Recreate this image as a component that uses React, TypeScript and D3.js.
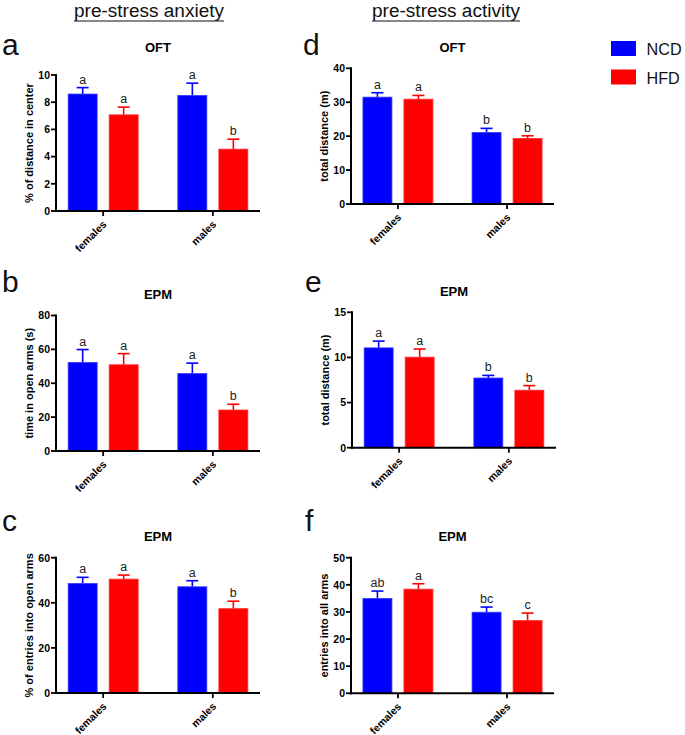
import React from "react";
import * as d3 from "d3";

// ---------- data ----------
const categories = ["females", "males"];
const seriesNames = ["NCD", "HFD"];
const seriesColors = ["#0000ff", "#ff0000"];

// a: OFT % distance in center
const aNCD = [8.6, 8.5];
const aNCDsem = [0.47, 0.9];
const aHFD = [7.07, 4.55];
const aHFDsem = [0.57, 0.73];
const aNCDletters = ["a", "a"];
const aHFDletters = ["a", "b"];
const aTicks = [0, 2, 4, 6, 8, 10];

// b: EPM time in open arms
const bNCD = [52.3, 45.7];
const bNCDsem = [7.6, 6.2];
const bHFD = [50.9, 24.2];
const bHFDsem = [6.6, 3.4];
const bNCDletters = ["a", "a"];
const bHFDletters = ["a", "b"];
const bTicks = [0, 20, 40, 60, 80];

// c: EPM % entries into open arms
const cNCD = [48.6, 47.1];
const cNCDsem = [2.7, 2.7];
const cHFD = [50.5, 37.4];
const cHFDsem = [1.8, 3.3];
const cNCDletters = ["a", "a"];
const cHFDletters = ["a", "b"];
const cTicks = [0, 20, 40, 60];

// d: OFT total distance
const dNCD = [31.5, 21.1];
const dNCDsem = [1.3, 1.2];
const dHFD = [30.9, 19.3];
const dHFDsem = [1.1, 0.8];
const dNCDletters = ["a", "b"];
const dHFDletters = ["a", "b"];
const dTicks = [0, 10, 20, 30, 40];

// e: EPM total distance
const eNCD = [11.06, 7.72];
const eNCDsem = [0.75, 0.29];
const eHFD = [10.03, 6.37];
const eHFDsem = [0.9, 0.51];
const eNCDletters = ["a", "b"];
const eHFDletters = ["a", "b"];
const eTicks = [0, 5, 10, 15];

// f: EPM entries into all arms
const fNCD = [35.0, 29.9];
const fNCDsem = [2.7, 1.9];
const fHFD = [38.4, 26.8];
const fHFDsem = [2.0, 2.8];
const fNCDletters = ["ab", "bc"];
const fHFDletters = ["a", "c"];
const fTicks = [0, 10, 20, 30, 40, 50];

const panelLetters = ["a", "b", "c", "d", "e", "f"];
const panelTitles = ["OFT", "EPM", "EPM", "OFT", "EPM", "EPM"];
const yLabels = [
  "% of distance in center",
  "time in open arms (s)",
  "% of entries into open arms",
  "total distance (m)",
  "total distance (m)",
  "entries into all arms",
];
const columnHeaders = ["pre-stress anxiety", "pre-stress activity"];

const panelData = [
  { means: [aNCD, aHFD], sems: [aNCDsem, aHFDsem], letters: [aNCDletters, aHFDletters], ticks: aTicks },
  { means: [bNCD, bHFD], sems: [bNCDsem, bHFDsem], letters: [bNCDletters, bHFDletters], ticks: bTicks },
  { means: [cNCD, cHFD], sems: [cNCDsem, cHFDsem], letters: [cNCDletters, cHFDletters], ticks: cTicks },
  { means: [dNCD, dHFD], sems: [dNCDsem, dHFDsem], letters: [dNCDletters, dHFDletters], ticks: dTicks },
  { means: [eNCD, eHFD], sems: [eNCDsem, eHFDsem], letters: [eNCDletters, eHFDletters], ticks: eTicks },
  { means: [fNCD, fHFD], sems: [fNCDsem, fHFDsem], letters: [fNCDletters, fHFDletters], ticks: fTicks },
];

// ---------- layout ----------
const layout = [
  { x0: 56, x1: 260, yTop: 75, yBot: 211, titleY: 52, letterX: 2, letterY: 55 },
  { x0: 56, x1: 260, yTop: 315.5, yBot: 451, titleY: 299, letterX: 2, letterY: 292 },
  { x0: 56, x1: 260, yTop: 557.7, yBot: 693, titleY: 541, letterX: 2, letterY: 531 },
  { x0: 351, x1: 554, yTop: 68.3, yBot: 204, titleY: 52, letterX: 303, letterY: 55 },
  { x0: 352, x1: 556, yTop: 312.3, yBot: 447.7, titleY: 296, letterX: 305, letterY: 292 },
  { x0: 351, x1: 554, yTop: 557.7, yBot: 693.3, titleY: 541, letterX: 305, letterY: 531 },
];

const FONT = "Arial, 'Liberation Sans', Helvetica, sans-serif";

function Panel({ idx }: { idx: number }) {
  const L = layout[idx];
  const D = panelData[idx];
  const maxTick = D.ticks[D.ticks.length - 1];
  const y = d3.scaleLinear().domain([0, maxTick]).range([L.yBot, L.yTop]);
  const xc = d3.scalePoint<string>().domain(categories).range([L.x0, L.x1]).padding(0.43);
  const groupW = 70;
  const xs = d3.scaleBand<string>().domain(seriesNames).range([-groupW / 2, groupW / 2]).paddingInner(0.293);
  const bw = xs.bandwidth();
  const capW = 12;

  return (
    <g>
      <text x={L.letterX} y={L.letterY} fontSize={30} fontFamily={FONT} fill="#111">
        {panelLetters[idx]}
      </text>
      <text x={(L.x0 + L.x1) / 2} y={L.titleY} fontSize={13} fontWeight="bold" textAnchor="middle" fontFamily={FONT}>
        {panelTitles[idx]}
      </text>
      <text
        transform={`translate(${L.x0 - 23},${(L.yTop + L.yBot) / 2}) rotate(-90)`}
        fontSize={11}
        fontWeight="bold"
        textAnchor="middle"
        fontFamily={FONT}
      >
        {yLabels[idx]}
      </text>
      {/* bars */}
      {seriesNames.map((s, si) =>
        categories.map((c, ci) => {
          const v = D.means[si][ci];
          const e = D.sems[si][ci];
          const bx = (xc(c) as number) + (xs(s) as number);
          const cx = bx + bw / 2;
          const col = seriesColors[si];
          return (
            <g key={s + c}>
              <line x1={cx} x2={cx} y1={y(v)} y2={y(v + e)} stroke={col} strokeWidth={1.6} />
              <line x1={cx - capW / 2} x2={cx + capW / 2} y1={y(v + e)} y2={y(v + e)} stroke={col} strokeWidth={1.6} />
              <rect x={bx} y={y(v)} width={bw} height={L.yBot - y(v)} fill={col} stroke={si === 0 ? "#3a3aff" : "#ff3030"} strokeWidth={0.8} />
              <text x={cx} y={y(v + e) - 4} fontSize={12.5} textAnchor="middle" fontFamily={FONT} fill="#222">
                {D.letters[si][ci]}
              </text>
            </g>
          );
        })
      )}
      {/* y axis */}
      <line x1={L.x0} x2={L.x0} y1={L.yTop - 1} y2={L.yBot + 1} stroke="#000" strokeWidth={2} />
      {D.ticks.map((t) => (
        <g key={t}>
          <line x1={L.x0 - 5} x2={L.x0} y1={y(t)} y2={y(t)} stroke="#000" strokeWidth={1.8} />
          <text x={L.x0 - 6} y={y(t) + 3.8} fontSize={10.5} fontWeight="bold" textAnchor="end" fontFamily={FONT}>
            {t}
          </text>
        </g>
      ))}
      {/* x axis */}
      <line x1={L.x0 - 1} x2={L.x1} y1={L.yBot} y2={L.yBot} stroke="#000" strokeWidth={2} />
      {categories.map((c) => {
        const cx = xc(c) as number;
        return (
          <g key={c}>
            <line x1={cx} x2={cx} y1={L.yBot} y2={L.yBot + 5} stroke="#000" strokeWidth={1.8} />
            <text
              transform={`translate(${cx + 4},${L.yBot + 14}) rotate(-45)`}
              fontSize={10.5}
              fontWeight="bold"
              textAnchor="end"
              fontFamily={FONT}
            >
              {c}
            </text>
          </g>
        );
      })}
    </g>
  );
}

export default function App() {
  return (
    <svg
      width={685}
      height={735}
      viewBox="0 0 685 735"
      style={{ position: "absolute", left: 0, top: 0, background: "#fff" }}
    >
      <rect x={0} y={0} width={685} height={735} fill="#fff" />
      {/* column headers */}
      <text x={74} y={17} fontSize={18} fontFamily={FONT} textLength={150} lengthAdjust="spacingAndGlyphs" fill="#111">
        {columnHeaders[0]}
      </text>
      <line x1={74} x2={224} y1={21} y2={21} stroke="#111" strokeWidth={1} />
      <text x={372} y={17} fontSize={18} fontFamily={FONT} textLength={148} lengthAdjust="spacingAndGlyphs" fill="#111">
        {columnHeaders[1]}
      </text>
      <line x1={372} x2={520} y1={21} y2={21} stroke="#111" strokeWidth={1} />

      {layout.map((_, i) => (
        <Panel key={i} idx={i} />
      ))}

      {/* legend */}
      {seriesNames.map((s, i) => (
        <g key={s}>
          <rect x={611} y={41 + i * 28.5} width={25} height={15} fill={seriesColors[i]} />
          <text x={646.5} y={55 + i * 28.5} fontSize={16.2} fontFamily={FONT} fill="#111">
            {s}
          </text>
        </g>
      ))}
    </svg>
  );
}
